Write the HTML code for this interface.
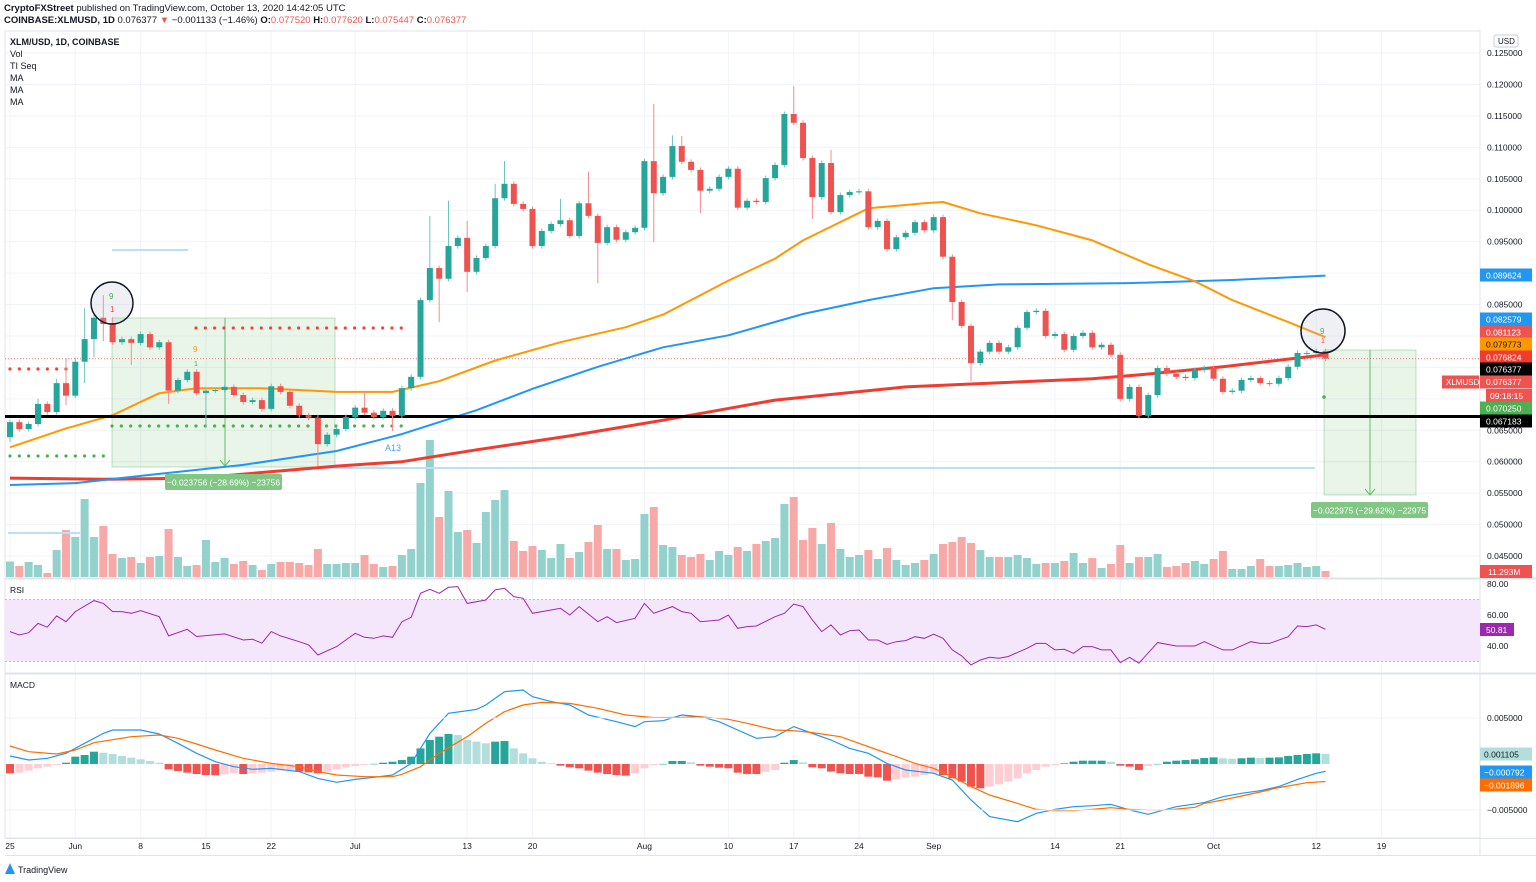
<!DOCTYPE html>
<html><head><meta charset="utf-8">
<style>
html,body{margin:0;padding:0;background:#fff;width:1536px;height:882px;overflow:hidden;font-family:"Liberation Sans",sans-serif}
svg{position:absolute;left:0;top:0}
text{font-family:"Liberation Sans",sans-serif}
</style></head>
<body>
<svg id="chart" width="1536" height="882" xmlns="http://www.w3.org/2000/svg"></svg>
<script>
// ---------- DATA ----------
const open0 = 0.0639;
const closes = [0.0663,0.0652,0.0660,0.0692,0.0679,0.0725,0.0705,0.0759,0.0795,0.0829,
0.0819,0.0790,0.0795,0.0789,0.0803,0.0782,0.0790,0.0713,0.0730,0.0743,
0.0709,0.0713,0.0714,0.0719,0.0706,0.0695,0.0698,0.0684,0.0720,0.0711,
0.0689,0.0674,0.0670,0.0628,0.0643,0.0652,0.0671,0.0686,0.0678,0.0671,
0.0681,0.0673,0.0717,0.0735,0.0857,0.0908,0.0891,0.0943,0.0956,0.0902,
0.0924,0.0943,0.1019,0.1042,0.1010,0.1002,0.0943,0.0967,0.0978,0.0984,
0.0959,0.1011,0.0991,0.0948,0.0973,0.0953,0.0965,0.0972,0.1078,0.1027,
0.1053,0.1102,0.1077,0.1064,0.1031,0.1034,0.1053,0.1066,0.1004,0.1015,
0.1013,0.1051,0.1072,0.1153,0.1139,0.1083,0.1021,0.1075,0.0997,0.1024,
0.1029,0.1030,0.0973,0.0983,0.0938,0.0957,0.0964,0.0981,0.0968,0.0989,
0.0926,0.0854,0.0816,0.0757,0.0775,0.0789,0.0775,0.0782,0.0813,0.0838,
0.0840,0.0800,0.0803,0.0778,0.0800,0.0805,0.0782,0.0786,0.0770,0.0700,
0.0719,0.0673,0.0706,0.0749,0.0740,0.0735,0.0733,0.0746,0.0749,0.0732,
0.0711,0.0713,0.0730,0.0733,0.0725,0.0724,0.0733,0.0751,0.0773,0.0773,
0.0776,0.0764];
const wickHiIdx = [3,5,6,7,8,10,11,38,45,47,49,52,53,59,62,69,71,72,84,88];
const wickHiVal = [0.0700,0.0732,0.0765,0.0765,0.0844,0.0865,0.0830,0.0711,0.0991,0.1015,0.0983,0.1042,0.1078,0.1018,0.1061,0.1169,0.1119,0.1118,0.1197,0.1096];
const wickLoIdx = [0,6,8,9,10,13,17,21,33,41,46,49,63,69,74,86,101,103,122];
const wickLoVal = [0.0631,0.0690,0.0725,0.0766,0.0792,0.0754,0.0692,0.0655,0.0593,0.0649,0.0822,0.0870,0.0884,0.0949,0.0995,0.0986,0.0825,0.0728,0.0668];
const volumes = [31,22,30,24,8,54,94,80,156,80,102,46,38,40,28,40,42,96,40,22,
24,74,30,38,26,32,24,14,26,30,30,28,24,56,26,26,28,28,44,26,
20,22,44,56,188,274,120,172,90,94,68,130,154,174,72,52,62,54,38,66,
38,50,70,104,56,56,34,36,126,140,64,60,44,40,46,34,52,44,60,52,
66,72,78,146,160,74,98,66,108,56,40,44,54,36,58,34,24,28,34,46,
66,70,80,68,54,40,40,40,44,38,26,28,28,32,48,28,38,18,26,64,
28,40,40,46,20,22,28,32,26,36,52,16,16,22,36,22,22,24,28,20,22,12];
const orangeIdx = [0,6,11,16,20,27,35,41,46,52,59,66,70,77,82,85,92,98,100,104,110,116,122,127,131,137,141];
const orangeVal = [0.0623,0.0653,0.0674,0.0709,0.0717,0.0717,0.0711,0.0711,0.0728,0.0761,0.0790,0.0814,0.0834,0.0888,0.0923,0.0952,0.1003,0.1011,0.1013,0.0995,0.0976,0.0952,0.0914,0.0887,0.0857,0.0822,0.0798];
const blueIdx = [0,7,15,25,35,42,50,56,63,70,77,85,92,99,106,120,131,141];
const blueVal = [0.0563,0.0566,0.0579,0.0595,0.0617,0.0644,0.0682,0.0716,0.0751,0.0782,0.0801,0.0835,0.0857,0.0876,0.0882,0.0884,0.0889,0.0896];
const redIdx = [0,10,20,35,42,50,60,70,82,96,116,121,130,141];
const redVal = [0.0574,0.0572,0.0574,0.0593,0.0600,0.0619,0.0641,0.0666,0.0698,0.0719,0.0732,0.0738,0.0751,0.0770];
const rsiIdx = [0,1,2,3,4,5,6,7,9,10,11,12,13,14,16,17,19,20,23,25,26,27,28,29,31,32,33,35,37,38,39,40,41,42,43,44,45,46,47,48,49,51,52,53,54,55,56,58,59,60,61,63,64,65,67,68,69,71,72,73,74,76,77,78,79,80,82,83,84,85,86,87,88,89,90,91,92,93,94,95,96,97,98,99,100,101,102,103,104,105,106,107,109,110,111,112,113,114,115,116,117,118,119,120,121,123,125,127,128,130,131,133,134,135,137,138,139,140,141];
const rsiVal = [49.3,47.1,48.6,54.6,52.1,59.4,55.7,62.2,69.3,67.5,62.2,62.2,61.1,62.8,58.9,46.5,50.8,46.1,47.8,43.9,44.3,41.8,49.3,46.5,42.8,40.7,34.2,39.6,48.2,45.6,45.0,46.5,45.6,55.7,58.5,74.0,76.6,74.0,77.9,78.3,67.5,69.7,76.2,77.2,71.9,70.8,61.1,63.2,64.3,60.0,65.4,55.7,58.9,55.1,57.9,67.5,61.1,65.4,62.2,61.1,55.7,56.8,60.0,51.4,52.5,52.9,58.9,61.1,67.1,65.4,56.8,49.3,53.6,47.1,49.9,50.3,43.9,43.9,41.1,42.8,43.5,46.0,45.0,47.6,45.0,37.5,33.6,27.8,31.0,32.7,32.1,33.2,38.5,41.7,41.7,37.5,37.9,35.3,39.6,39.6,37.5,37.5,29.3,32.7,28.9,42.2,40.0,40.0,42.8,37.5,37.5,42.8,41.7,41.7,46.0,52.9,52.5,53.6,50.8];
const macdIdx = [0,2,4,6,8,10,11,14,16,18,20,22,24,26,28,31,33,35,37,39,41,43,45,47,50,51,53,55,56,58,60,62,65,67,68,70,72,74,76,78,80,82,84,85,88,90,92,94,96,99,101,103,105,108,110,112,114,116,118,120,122,123,125,128,130,132,134,136,138,140,141];
const macdVal = [0.87,0.43,0.62,1.16,2.25,3.33,3.70,3.70,3.26,2.25,1.16,0.25,-0.29,-0.58,-0.47,-0.83,-1.56,-1.99,-1.67,-1.45,-1.20,0.07,3.33,5.51,5.94,6.41,7.86,8.04,7.32,6.78,6.41,5.33,4.60,4.06,4.60,4.71,5.33,5.14,4.60,3.70,2.79,2.97,4.06,3.70,2.61,1.70,1.16,0.07,-0.65,-1.01,-1.74,-3.91,-5.72,-6.27,-5.36,-4.93,-4.64,-4.53,-4.38,-5.00,-5.47,-5.18,-4.64,-4.20,-3.55,-3.19,-2.90,-2.46,-1.67,-1.01,-0.79];
const signalIdx = [0,2,5,7,9,13,16,18,20,22,25,28,31,33,35,38,41,42,44,46,49,51,53,55,57,60,63,66,69,72,74,77,79,82,84,86,89,91,93,95,97,99,101,103,105,108,110,112,114,116,118,120,122,124,127,128,130,132,134,136,139,141];
const signalVal = [1.96,1.34,1.09,1.52,2.32,2.97,3.15,2.79,2.17,1.52,0.62,0.07,-0.29,-0.83,-1.20,-1.38,-1.38,-1.12,-0.29,1.16,2.97,4.42,5.69,6.41,6.70,6.59,6.05,5.33,5.04,5.07,5.14,4.86,4.42,3.70,3.62,3.41,2.97,2.25,1.52,0.80,0.07,-0.47,-1.38,-2.46,-3.37,-4.28,-4.93,-5.07,-5.07,-4.93,-4.75,-4.93,-5.00,-5.00,-4.71,-4.28,-3.91,-3.48,-3.04,-2.57,-2.03,-1.90];
const histE4 = [-10.1,-9.4,-7.2,-4.7,-2.9,-1.1,1.4,8.0,9.8,13.4,12.3,10.9,8.7,6.9,5.1,3.3,1.4,-5.8,-7.6,-9.4,
-10.9,-12.0,-12.3,-11.2,-10.1,-10.9,-10.1,-9.4,-8.3,-7.2,-6.5,-8.3,-9.1,-10.1,-8.3,-5.8,-3.6,-2.2,-1.1,0.2,
1.4,2.5,4.3,8.0,17.0,26.1,29.7,32.6,31.5,26.1,24.3,22.5,24.3,25.0,17.0,11.6,6.2,2.5,0.7,-1.8,
-3.6,-4.7,-7.2,-9.4,-10.9,-12.0,-12.7,-10.1,-4.7,-1.1,0.1,3.3,3.3,1.8,-1.8,-2.9,-4.0,-4.7,-9.4,-10.9,
-10.9,-8.3,-6.5,1.4,4.3,1.8,-3.6,-4.7,-8.3,-10.1,-10.9,-10.9,-13.8,-14.5,-18.1,-16.7,-14.5,-13.8,-12.0,-10.1,
-12.0,-15.6,-19.2,-24.6,-26.4,-24.6,-22.1,-19.2,-15.6,-10.1,-6.5,-2.9,-1.1,0.7,2.5,3.6,3.6,3.6,2.5,-1.8,
-2.9,-6.5,-2.2,0.1,2.5,3.6,4.3,5.1,6.5,7.2,6.2,5.8,6.2,6.9,6.5,6.9,7.2,8.7,9.8,10.9,11.6,11.0];
const xLabels = ["25","Jun","8","15","22","Jul","13","20","Aug","10","17","24","Sep","14","21","Oct","12","19"];
const xLabelIdx = [0,7,14,21,28,37,49,56,68,77,84,91,99,112,119,129,140,147];
const priceTicks = [0.125,0.120,0.115,0.110,0.105,0.100,0.095,0.090,0.085,0.065,0.060,0.055,0.050,0.045];
const rsiTicks = [80,60,40];
const macdTicks = [5,-5];

// ---------- SCALES ----------
const xI = i => 10 + i*9.33;
const yP = p => 53 + (0.125 - p)*6288;
const yV = v => 577 - v*0.5;
const yR = v => 615 - (v-60)*1.55;
const yM = m => 764 - m*9.2; // m in 1e-3
const NS = "http://www.w3.org/2000/svg";
const svg = document.getElementById('chart');
function mk(tag, attrs, parent){ const e=document.createElementNS(NS,tag); for(const k in attrs) e.setAttribute(k,attrs[k]); (parent||svg).appendChild(e); return e; }
function txt(s, attrs, parent){ const e=mk('text',attrs,parent); e.textContent=s; return e; }

// ---------- FRAME / GRID ----------
const grid = mk('g',{});


xLabelIdx.forEach(i=>{ mk('line',{x1:xI(i),x2:xI(i),y1:31,y2:838,stroke:'#f0f3fa','stroke-width':1},grid); });
priceTicks.concat([0.080,0.075,0.070]).forEach(p=>{ mk('line',{x1:5,x2:1480,y1:yP(p),y2:yP(p),stroke:'#f0f3fa'},grid); });
mk('rect',{x:5,y:31,width:1475,height:807,fill:'none',stroke:'#e0e3eb'});
mk('line',{x1:1480,x2:1480,y1:31,y2:855,stroke:'#e0e3eb'});
mk('line',{x1:5,x2:1536,y1:578.5,y2:578.5,stroke:'#e0e3eb','stroke-width':2});
mk('line',{x1:5,x2:1536,y1:673.5,y2:673.5,stroke:'#e0e3eb','stroke-width':2});
mk('line',{x1:5,x2:1536,y1:838.5,y2:838.5,stroke:'#e0e3eb'});
mk('line',{x1:5,x2:1536,y1:855.5,y2:855.5,stroke:'#e0e3eb'});

// ---------- HEADER ----------
const hdr = txt('',{x:4,y:11,'font-size':'9.5',fill:'#131722'});


hdr.innerHTML='<tspan font-weight="bold">CryptoFXStreet</tspan> published on TradingView.com, October 13, 2020 14:42:05 UTC';
const sym = txt('',{x:4,y:23,'font-size':'9.5',fill:'#131722'});


sym.innerHTML='<tspan font-weight="bold">COINBASE:XLMUSD, 1D</tspan> 0.076377 <tspan fill="#ef5350">▼</tspan> −0.001133 (−1.46%) <tspan font-weight="bold">O:</tspan><tspan fill="#ef5350">0.077520</tspan> <tspan font-weight="bold">H:</tspan><tspan fill="#ef5350">0.077620</tspan> <tspan font-weight="bold">L:</tspan><tspan fill="#ef5350">0.075447</tspan> <tspan font-weight="bold">C:</tspan><tspan fill="#ef5350">0.076377</tspan>';
const legendItems = ['XLM/USD, 1D, COINBASE','Vol','TI Seq','MA','MA','MA'];
legendItems.forEach((s,k)=>{ const t=txt(s,{x:10,y:45+k*12,'font-size':'9',fill:'#131722','font-weight':k===0?'bold':'normal'});
    });

// ---------- VOLUME ----------
const vg = mk('g',{});


volumes.forEach((v,i)=>{
  const o = i===0?open0:closes[i-1], c=closes[i];
  const r = mk('rect',{x:xI(i)-4,y:yV(v),width:8,height:577-yV(v),fill:c>=o?'#93d2cc':'#f6a9a7'},vg);
  
  
});

// ---------- DRAWINGS (behind candles) ----------
const box1 = mk('rect',{x:112,y:318,width:223,height:149,fill:'rgba(76,175,80,0.13)',stroke:'rgba(76,175,80,0.35)'});


mk('line',{x1:225,x2:225,y1:318,y2:465,stroke:'#66bb6a'});
mk('path',{d:'M220 460 L225 466 L230 460',fill:'none',stroke:'#66bb6a'});
const box2 = mk('rect',{x:1324,y:350,width:92,height:145,fill:'rgba(76,175,80,0.13)',stroke:'rgba(76,175,80,0.35)'});


mk('line',{x1:1370,x2:1370,y1:350,y2:494,stroke:'#66bb6a'});
mk('path',{d:'M1365 489 L1370 495 L1375 489',fill:'none',stroke:'#66bb6a'});
mk('line',{x1:112,x2:188,y1:250,y2:250,stroke:'#bbdefb','stroke-width':2});
mk('line',{x1:320,x2:1315,y1:468,y2:468,stroke:'#bbdefb','stroke-width':2});
mk('line',{x1:8,x2:80,y1:533,y2:533,stroke:'#bbdefb','stroke-width':2});
function dots(x1,x2,y,col){ for(let x=x1;x<=x2;x+=9.33) mk('circle',{cx:x,cy:y,r:1.6,fill:col}); }
dots(10,70,369,'#f44336'); dots(196,410,328,'#f44336');
dots(10,105,456,'#4caf50'); dots(112,410,426,'#4caf50');
mk('line',{x1:5,x2:1480,y1:yP(0.076377),y2:yP(0.076377),stroke:'#ef5350','stroke-width':0.8,'stroke-dasharray':'1 2'});

// ---------- MOVING AVERAGES ----------
function poly(idx, vals, col, w, name){
  const pts = idx.map((i,k)=>xI(i).toFixed(1)+','+yP(vals[k]).toFixed(1)).join(' ');
  const p = mk('polyline',{points:pts,fill:'none',stroke:col,'stroke-width':w,'stroke-linejoin':'round'});
  
  
}
poly(redIdx,redVal,'#f23b2e',3,'ma-200-line');
poly(blueIdx,blueVal,'#2196f3',2,'ma-100-line');
poly(orangeIdx,orangeVal,'#ff9800',2,'ma-50-line');

// support line
const sup = mk('line',{x1:5,x2:1480,y1:yP(0.067183),y2:yP(0.067183),stroke:'#000','stroke-width':3});



// ---------- CANDLES ----------
const cg = mk('g',{});


closes.forEach((c,i)=>{
  const o = i===0?open0:closes[i-1];
  const up = c>=o;
  let hi = Math.max(o,c)+0.0004, lo = Math.min(o,c)-0.0004;
  const hk = wickHiIdx.indexOf(i); if(hk>=0) hi = wickHiVal[hk];
  const lk = wickLoIdx.indexOf(i); if(lk>=0) lo = wickLoVal[lk];
  const col = up?'#26a69a':'#ef5350';
  const g = mk('g',{},cg);
  
  
  mk('line',{x1:xI(i),x2:xI(i),y1:yP(hi),y2:yP(lo),stroke:up?'#6cc4bb':'#f48e8c','stroke-width':1},g);
  const yt = yP(Math.max(o,c)), yb = yP(Math.min(o,c));
  mk('rect',{x:xI(i)-3,y:yt,width:6,height:Math.max(1,yb-yt),fill:col},g);
});

// circles & annotations
[[112,303,21],[1323,331,22]].forEach(([cx,cy,r])=>{
  const c=mk('circle',{cx:cx,cy:cy,r:r,fill:'rgba(180,185,200,0.22)',stroke:'#131722','stroke-width':1.5});
  
  
});
txt('9',{x:109,y:299,'font-size':'8',fill:'#4caf50'}); txt('1',{x:110,y:312,'font-size':'8',fill:'#f44336'});
txt('9',{x:193,y:352,'font-size':'8',fill:'#ff9800'}); txt('1',{x:194,y:366,'font-size':'7',fill:'#4caf50'});
txt('9',{x:1320,y:334,'font-size':'8',fill:'#4caf50'}); txt('1',{x:1321,y:343,'font-size':'7',fill:'#f44336'});
const a13 = txt('A13',{x:385,y:451,'font-size':'9',fill:'#42a5f5'});
 
mk('circle',{cx:1324,cy:397,r:1.8,fill:'#4caf50'});
function tag(x,y,w,s,name){
  const g=mk('g',{});  
  mk('rect',{x:x,y:y,width:w,height:16,rx:2,fill:'#81c784'},g);
  txt(s,{x:x+w/2,y:y+11.5,'font-size':'8.5',fill:'#fff','text-anchor':'middle'},g);
}
tag(165,474,117,'−0.023756 (−28.69%) −23756','measure-label-june');
tag(1311,502,117,'−0.022975 (−29.62%) −22975','measure-label-october');

// ---------- PRICE AXIS ----------
const pa = mk('g',{});  
priceTicks.forEach(p=>{ txt(p.toFixed(6),{x:1487,y:yP(p)+3,'font-size':'8.5',fill:'#131722'},pa); });
mk('rect',{x:1494,y:35,width:24,height:12,fill:'#fff',stroke:'#c8ccd6',rx:2},pa);
txt('USD',{x:1498,y:44,'font-size':'8',fill:'#131722'},pa);
const badges = [[0.089624,'#2196f3','0.089624','#fff'],[0.082579,'#2196f3','0.082579','#fff'],[0.081123,'#ef5350','0.081123','#fff'],
 [0.079773,'#ff9800','0.079773','#131722'],[0.076824,'#f23b2e','0.076824','#fff'],[0.076377,'#000','0.076377','#fff'],
 [0.070250,'#4caf50','0.070250','#fff'],[0.067183,'#000','0.067183','#fff']];
const badgeY = [275,319,332,344,357,369,408,421];
badges.forEach((b,k)=>{ const g=mk('g',{});  
  mk('rect',{x:1480,y:badgeY[k]-6.5,width:52,height:13,fill:b[1]},g);
  txt(b[2],{x:1486,y:badgeY[k]+3.5,'font-size':'8.5',fill:b[3]},g); });
{ const g=mk('g',{});  
  mk('rect',{x:1442,y:375.5,width:37,height:13,fill:'#ef5350'},g);
  txt('XLMUSD',{x:1446,y:385,'font-size':'8',fill:'#fff'},g);
  mk('rect',{x:1480,y:375.5,width:52,height:13,fill:'#ef5350'},g);
  txt('0.076377',{x:1486,y:385,'font-size':'8.5',fill:'#fff'},g);
  mk('rect',{x:1486,y:389,width:46,height:13,fill:'#ef5350'},g);
  txt('09:18:15',{x:1490,y:399,'font-size':'8.5',fill:'#fff'},g);
  mk('rect',{x:1480,y:565,width:52,height:13,fill:'#ef5350'},g);
  txt('11.293M',{x:1488,y:575,'font-size':'8.5',fill:'#fff'},g); }

// ---------- RSI ----------
txt('RSI',{x:10,y:593,'font-size':'8.5',fill:'#131722'});
const band = mk('rect',{x:5,y:yR(70),width:1475,height:yR(30)-yR(70),fill:'#f5e7fb'});
 
[70,30].forEach(v=>mk('line',{x1:5,x2:1480,y1:yR(v),y2:yR(v),stroke:'#c9b3d6','stroke-dasharray':'2 2'}));
const rsiLine = mk('polyline',{points:rsiIdx.map((i,k)=>xI(i).toFixed(1)+','+yR(rsiVal[k]).toFixed(1)).join(' '),fill:'none',stroke:'#9c27b0','stroke-width':1});
 
rsiTicks.forEach(v=>txt(v.toFixed(2),{x:1487,y:yR(v)+3,'font-size':'8.5',fill:'#131722'}));
mk('rect',{x:1480,y:623,width:34,height:13,fill:'#9c27b0'}); txt('50.81',{x:1486,y:633,'font-size':'8.5',fill:'#fff'});

// ---------- MACD ----------
txt('MACD',{x:10,y:688,'font-size':'8.5',fill:'#131722'});
const hg = mk('g',{});  
histE4.forEach((h,i)=>{
  const prev = i===0?h:histE4[i-1];
  let col;
  if(h>=0) col = h>=prev?'#26a69a':'#b2dfdb'; else col = h<=prev?'#ef5350':'#ffcdd2';
  const y0=yM(0), y1=yM(h/10);
  const r=mk('rect',{x:xI(i)-4,y:Math.min(y0,y1),width:8,height:Math.max(0.5,Math.abs(y1-y0)),fill:col},hg);
   
});
const ml = mk('polyline',{points:macdIdx.map((i,k)=>xI(i).toFixed(1)+','+yM(macdVal[k]).toFixed(1)).join(' '),fill:'none',stroke:'#2196f3','stroke-width':1.2});
 
const sl = mk('polyline',{points:signalIdx.map((i,k)=>xI(i).toFixed(1)+','+yM(signalVal[k]).toFixed(1)).join(' '),fill:'none',stroke:'#ff6d00','stroke-width':1.2});
 
macdTicks.forEach(v=>{ mk('line',{x1:5,x2:1480,y1:yM(v),y2:yM(v),stroke:'#f0f3fa'}); txt((v/1000).toFixed(6).replace('-','−'),{x:1487,y:yM(v)+3,'font-size':'8.5',fill:'#131722'}); });
[[754,'#b2dfdb','0.001105','#131722'],[772,'#2196f3','−0.000792','#fff'],[785,'#ff6d00','−0.001896','#fff']].forEach(b=>{
  mk('rect',{x:1480,y:b[0]-6.5,width:52,height:13,fill:b[1]}); txt(b[2],{x:1484,y:b[0]+3.5,'font-size':'8.5',fill:b[3]}); });

// ---------- TIME AXIS ----------
const ta = mk('g',{});  
xLabels.forEach((s,k)=>txt(s,{x:xI(xLabelIdx[k]),y:849,'font-size':'8.5',fill:'#131722','text-anchor':'middle'},ta));

// footer
const ft = mk('g',{});  
mk('path',{d:'M5 874 L10 863 L15 874 Z',fill:'#2196f3'},ft);
txt('TradingView',{x:18,y:873,'font-size':'9',fill:'#131722'},ft);
</script>
</body></html>
